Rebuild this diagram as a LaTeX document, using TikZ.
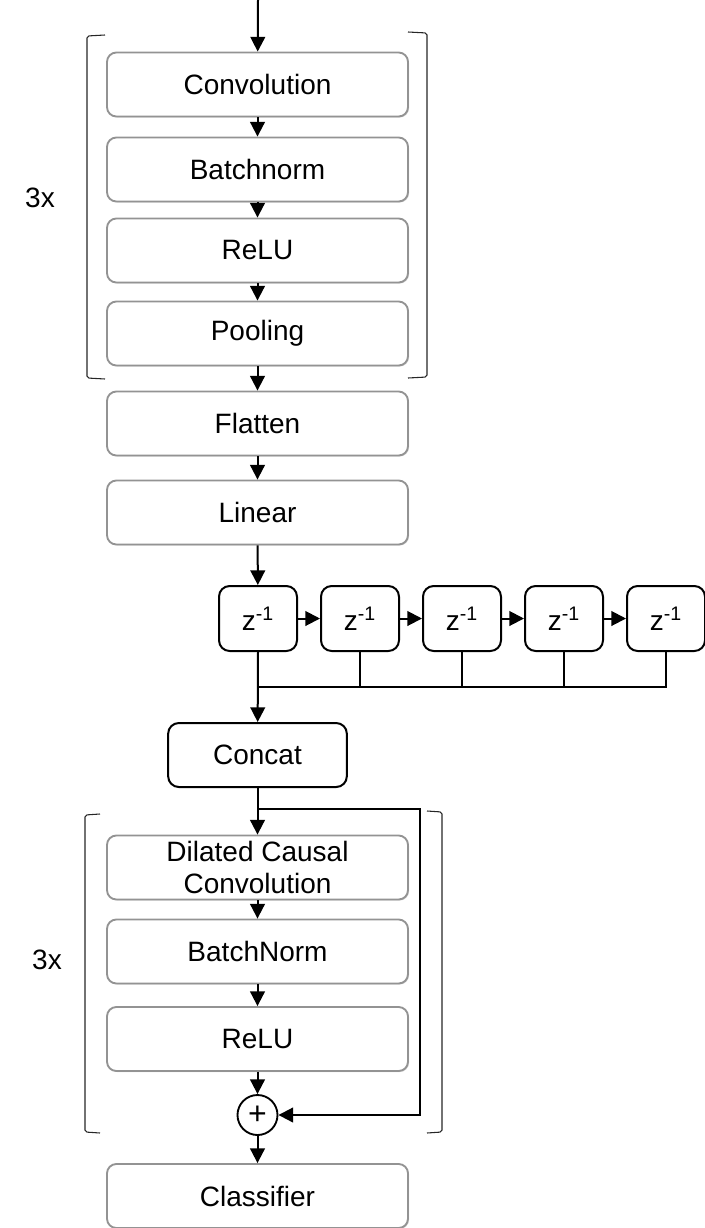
\documentclass[tikz,border=0pt]{standalone}
\usepackage{fontspec}
\setmainfont{Liberation Sans}
\usetikzlibrary{arrows.meta,shadows}

\begin{document}
\begin{tikzpicture}[x=0.75pt,y=-0.75pt,
    font=\fontsize{21}{24}\selectfont,
    layer/.style={draw=gray!85,line width=1.4pt,rounded corners=7pt,fill=white,
      minimum width=225.75pt,minimum height=48pt,inner sep=0pt,align=center,
      drop shadow={opacity=0.3,shadow xshift=0.8pt,shadow yshift=-0.8pt}},
    delay/.style={draw,line width=1.5pt,rounded corners=8pt,fill=white,
      minimum width=58.5pt,minimum height=48.75pt,inner sep=0pt},
    flow/.style={line width=1.5pt,-{Triangle[length=11pt,width=11pt]}},
    wire/.style={line width=1.5pt},
    brack/.style={line width=0.8pt,rounded corners=1.5pt,draw=black!85}]
  \useasboundingbox (0,0) rectangle (705,1228);

  %% Feature extractor (repeated 3x)
  \coordinate (input) at (258,0);
  \node[layer] (conv) at (257.5,84.5) {Convolution};
  \node[layer] (bn1) at (257.5,169.5) {Batchnorm};
  \node[layer] (relu1) at (257.5,250.5) {ReLU};
  \node[layer] (pool) at (257.5,333.5) {Pooling};
  \node[layer] (flat) at (257.5,423.5) {Flatten};
  \node[layer] (lin) at (257.5,512.5) {Linear};

  \draw[brack] (105,35) -- (87,36) -- (87,378) -- (105,379);
  \draw[brack] (408,32) -- (427,33) -- (427,377) -- (408,378);
  \node (rep1) at (40,198) {3x};

  \draw[flow] (input) -- (conv);
  \draw[flow] (conv) -- (bn1);
  \draw[flow] (bn1) -- (relu1);
  \draw[flow] (relu1) -- (pool);
  \draw[flow] (pool) -- (flat);
  \draw[flow] (flat) -- (lin);

  %% Delay line
  \node[delay] (z1) at (258,618.5) {z\textsuperscript{-1}};
  \node[delay] (z2) at (360,618.5) {z\textsuperscript{-1}};
  \node[delay] (z3) at (462,618.5) {z\textsuperscript{-1}};
  \node[delay] (z4) at (564,618.5) {z\textsuperscript{-1}};
  \node[delay] (z5) at (666,618.5) {z\textsuperscript{-1}};
  \draw[flow] (lin) -- (z1);
  \draw[flow] (z1) -- (z2);
  \draw[flow] (z2) -- (z3);
  \draw[flow] (z3) -- (z4);
  \draw[flow] (z4) -- (z5);

  \node[draw,line width=1.5pt,rounded corners=8pt,minimum width=134pt,
        minimum height=48pt,inner sep=0pt] (cat) at (257.5,755) {Concat};
  \coordinate (bus) at (258,687);
  \draw[wire] (z5.south) |- (bus);
  \draw[wire] (z2.south) -- (z2.south |- bus);
  \draw[wire] (z3.south) -- (z3.south |- bus);
  \draw[wire] (z4.south) -- (z4.south |- bus);
  \draw[flow] (z1.south) -- (cat);

  %% Temporal block (repeated 3x)
  \node[layer] (dcc) at (257.5,867.5) {Dilated Causal\\Convolution};
  \node[layer] (bn2) at (257.5,951.5) {BatchNorm};
  \node[layer] (relu2) at (257.5,1039) {ReLU};
  \node[draw,circle,line width=1.4pt,minimum size=30pt,inner sep=0pt,
        font=\fontsize{24}{24}\selectfont] (sum) at (257.5,1115) {+};
  \node[layer] (cls) at (257.5,1196) {Classifier};

  \draw[brack] (100,814) -- (85,815) -- (85,1132) -- (100,1133);
  \draw[brack] (427,811) -- (442,812) -- (442,1132) -- (427,1133);
  \node (rep2) at (47,960) {3x};

  \coordinate (split) at (257.5,809);
  \coordinate (skip) at (420,809);
  \draw[flow] (cat) -- (dcc);
  \draw[flow] (split) -- (skip) |- (sum);
  \draw[flow] (dcc) -- (bn2);
  \draw[flow] (bn2) -- (relu2);
  \draw[flow] (relu2) -- (sum);
  \draw[flow] (sum) -- (cls);
\end{tikzpicture}
\end{document}
